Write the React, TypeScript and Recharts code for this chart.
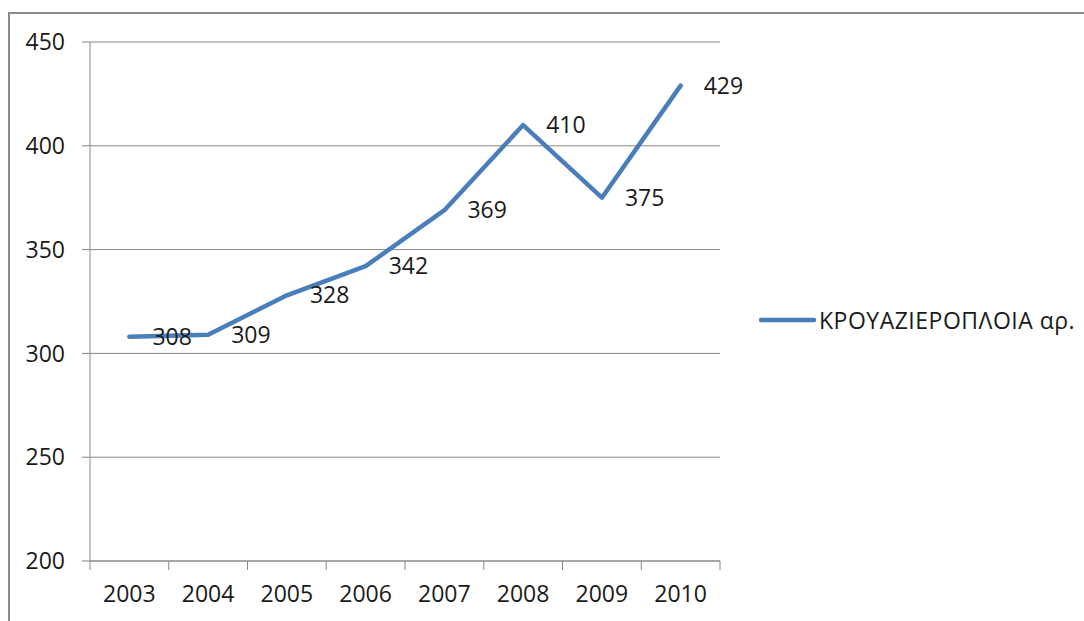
import React from 'react';
import { LineChart, Line, XAxis, YAxis, CartesianGrid, Legend, LabelList } from 'recharts';

const years = ['2003', '2004', '2005', '2006', '2007', '2008', '2009', '2010'];
const cruiseShips = [308, 309, 328, 342, 369, 410, 375, 429];
const yTicks = [200, 250, 300, 350, 400, 450];
const seriesName = 'ΚΡΟΥΑΖΙΕΡΟΠΛΟΙΑ αρ.';

const W = 1084;
const H = 621;
const PLOT_LEFT = 90;
const PLOT_RIGHT = 720;
const BAND = (PLOT_RIGHT - PLOT_LEFT) / years.length;

const FONT = '"Open Sans", sans-serif';
const TEXT = '#1a1a1a';
const GRID = '#878787';
const BLUE = '#4a7ebb';

// points sit in the middle of each year band; ticks go on the band edges
const data = years.map((year, i) => ({ pos: i + 0.5, year, value: cruiseShips[i] }));
const edgeTicks = [...years.map((_, i) => i), years.length];

const YearTick = (props: any) => {
  const { x, y, payload } = props;
  const idx = payload.value;
  if (idx >= years.length) return <g />;
  return (
    <text x={x + BAND / 2} y={y + 30} textAnchor="middle" fill={TEXT} fontSize={23} fontFamily={FONT}>
      {years[idx]}
    </text>
  );
};

const LegendBox = () => (
  <div style={{ display: 'flex', alignItems: 'center', fontFamily: FONT, fontSize: 23, color: TEXT, whiteSpace: 'nowrap' }}>
    <svg width={60} height={10}>
      <line x1={2} y1={5} x2={55} y2={5} stroke={BLUE} strokeWidth={4.5} strokeLinecap="round" />
    </svg>
    <span style={{ letterSpacing: 0.5 }}>{seriesName}</span>
  </div>
);

export default function App() {
  return (
    <div style={{ position: 'absolute', left: 0, top: 0, width: W, height: H, background: '#fff', overflow: 'hidden' }}>
      <div style={{ position: 'absolute', left: 8, top: 12, width: W, height: H, border: '2px solid #8a8a8a' }} />
      <div style={{ position: 'absolute', left: 0, top: 0 }}>
        <LineChart width={W} height={H} data={data} margin={{ top: 42, right: W - PLOT_RIGHT, bottom: 0, left: 0 }}>
          <CartesianGrid vertical={false} stroke={GRID} strokeWidth={1} />
          <XAxis
            dataKey="pos"
            type="number"
            domain={[0, years.length]}
            ticks={edgeTicks}
            interval={0}
            height={60}
            stroke={GRID}
            tickSize={9}
            tick={<YearTick />}
          />
          <YAxis
            domain={[200, 450]}
            ticks={yTicks}
            width={PLOT_LEFT}
            stroke={GRID}
            tickSize={8}
            tickMargin={17}
            tick={{ fill: TEXT, fontSize: 23, fontFamily: FONT }}
          />
          <Legend
            layout="vertical"
            align="center"
            verticalAlign="middle"
            wrapperStyle={{ left: 759, top: 304, width: 'auto' }}
            content={<LegendBox />}
          />
          <Line
            dataKey="value"
            name={seriesName}
            stroke={BLUE}
            strokeWidth={4.5}
            strokeLinecap="round"
            strokeLinejoin="round"
            dot={false}
            activeDot={false}
            isAnimationActive={false}
          >
            <LabelList dataKey="value" position="right" offset={23} fill={TEXT} fontSize={23} fontFamily={FONT} />
          </Line>
        </LineChart>
      </div>
    </div>
  );
}
